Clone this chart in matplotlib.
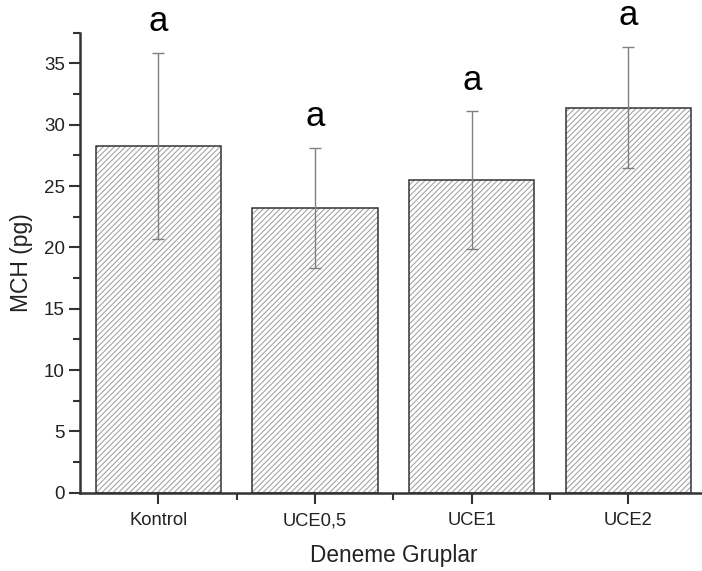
import matplotlib
matplotlib.use("Agg")
import matplotlib.pyplot as plt
from matplotlib.ticker import MultipleLocator, FixedLocator

categories = ["Kontrol", "UCE0,5", "UCE1", "UCE2"]
means = [28.28, 23.23, 25.48, 31.40]
errors = [7.6, 4.9, 5.6, 4.95]
letters = ["a", "a", "a", "a"]

plt.rcParams['font.family'] = ['Liberation Sans', 'DejaVu Sans']
plt.rcParams['hatch.linewidth'] = 0.7
plt.rcParams['hatch.color'] = '#999999'

fig = plt.figure(figsize=(7.02, 5.71), dpi=100)
ax = fig.add_axes([80/702, 78.3/571, 626.8/702, 460/571])

x = list(range(len(categories)))
ax.bar(x, means, width=0.8, color='white', edgecolor='#999999', hatch='//////', linewidth=0, zorder=1)
ax.bar(x, means, width=0.8, fill=False, edgecolor='#333333', linewidth=1.1, zorder=2)
ax.errorbar(x, means, yerr=errors, fmt='none', ecolor='#808080', elinewidth=1.0,
            capsize=4.5, capthick=1.0, zorder=3)

for xi, m, e, l in zip(x, means, errors, letters):
    ax.text(xi, m + e + 2.55, l, ha='center', va='center', fontsize=25, color='black', clip_on=False)

ax.set_xlim(-0.5, 3.5)
ax.set_ylim(0, 37.5)
ax.yaxis.set_major_locator(MultipleLocator(5))
ax.yaxis.set_minor_locator(MultipleLocator(2.5))
ax.set_xticks(x)
ax.set_xticklabels(categories)
ax.xaxis.set_minor_locator(FixedLocator([0.5, 1.5, 2.5]))

for s in ['top', 'right']:
    ax.spines[s].set_visible(False)
for s in ['left', 'bottom']:
    ax.spines[s].set_linewidth(1.8)
    ax.spines[s].set_color('#333333')

ax.tick_params(axis='both', which='major', direction='out', length=8, width=1.5, color='#333333',
               labelcolor='#222222')
ax.tick_params(axis='both', which='minor', direction='out', length=5, width=1.5, color='#333333')
ax.tick_params(axis='y', labelsize=13.5, pad=3)
ax.tick_params(axis='x', labelsize=13.2, pad=6)

ax.set_ylabel("MCH (pg)", fontsize=16.5, color='#222222', labelpad=8)
ax.set_xlabel("Deneme Gruplar", fontsize=16.3, color='#222222', labelpad=11)

fig.savefig("out.png", dpi=100)
